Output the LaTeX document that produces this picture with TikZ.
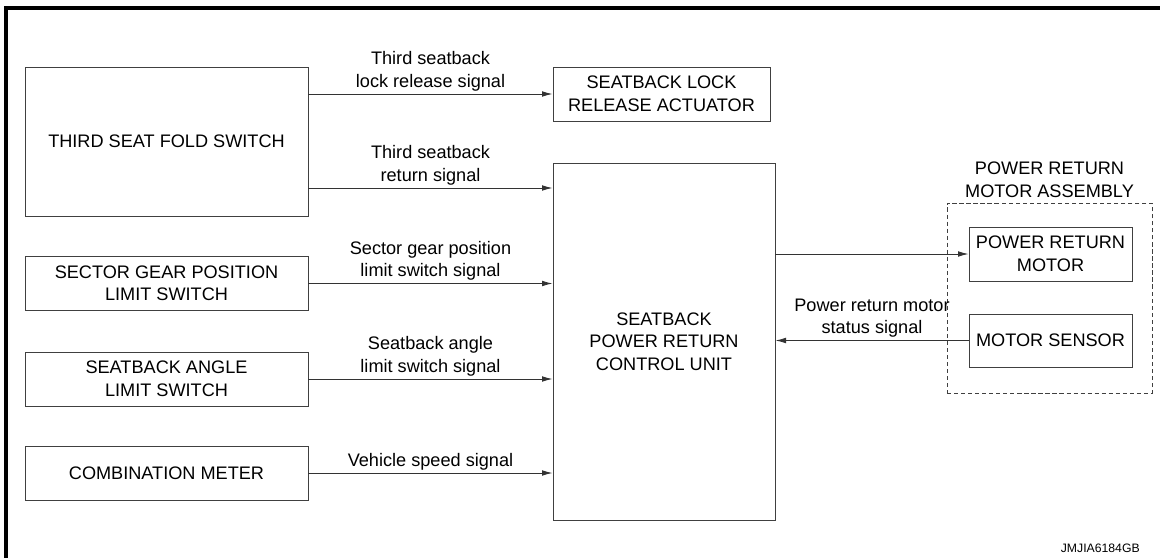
\documentclass[tikz,border=0pt]{standalone}
\usepackage{fontspec}
\setmainfont{Liberation Sans}
\usetikzlibrary{arrows.meta,positioning}

\tikzset{
  txt/.style={font=\fontsize{12.9}{16}\selectfont, align=center},
  blk/.style={txt, draw=black!75, line width=.6pt, inner sep=0pt},
  grp/.style={draw=black!75, line width=.6pt, dash pattern=on 3pt off 2pt, inner sep=0pt},
  sig/.style={draw=black!80, line width=.6pt, -{Latex[length=7.5pt,width=4pt]}},
  lbl/.style={txt, above, inner sep=2pt},
}

\begin{document}
\begin{tikzpicture}[x=0.025cm, y=-0.025cm]
  \useasboundingbox (0,0) rectangle (1160,558);
  \draw[line width=2.2pt] (6,558) -- (6,8) -- (1160,8);

  % inputs on the left
  \node[blk, minimum width=7.075cm, minimum height=3.725cm] (fold) at (166.5,141.5) {THIRD SEAT FOLD SWITCH};
  \node[blk, minimum width=7.075cm, minimum height=1.35cm] (sector) at (166.5,283.5) {SECTOR GEAR POSITION\\LIMIT SWITCH};
  \node[blk, minimum width=7.075cm, minimum height=1.35cm] (angle) at (166.5,379) {SEATBACK ANGLE\\LIMIT SWITCH};
  \node[blk, minimum width=7.075cm, minimum height=1.35cm] (meter) at (166.5,473) {COMBINATION METER};

  % middle column
  \node[blk, minimum width=5.425cm, minimum height=1.35cm] (act) at (661.5,94) {SEATBACK LOCK\\RELEASE ACTUATOR};
  \node[blk, minimum width=5.55cm, minimum height=8.925cm] (cu) at (664,341.5) {SEATBACK\\POWER RETURN\\CONTROL UNIT};

  % motor assembly
  \node[grp, minimum width=5.125cm, minimum height=4.75cm] (asmbox) at (1049.5,298) {};
  \node[blk, minimum width=4.075cm, minimum height=1.35cm] (motor) at (1050.5,254) {POWER RETURN\\MOTOR};
  \node[blk, minimum width=4.075cm, minimum height=1.325cm] (sensor) at (1050.5,340.5) {MOTOR SENSOR};
  \node[txt, above=3.5pt of asmbox.north, inner sep=0pt] (asm) {POWER RETURN\\MOTOR ASSEMBLY};

  % signals
  \draw[sig] (fold.east |- act.west) -- node[lbl] {Third seatback\\lock release signal} (act.west);
  \draw[sig] (fold.east |- 0,188) -- node[lbl] {Third seatback\\return signal} (cu.west |- 0,188);
  \draw[sig] (sector.east) -- node[lbl] {Sector gear position\\limit switch signal} (sector.east -| cu.west);
  \draw[sig] (angle.east) -- node[lbl] {Seatback angle\\limit switch signal} (angle.east -| cu.west);
  \draw[sig] (meter.east) -- node[lbl] {Vehicle speed signal} (meter.east -| cu.west);
  \draw[sig] (cu.east |- motor.west) -- (motor.west);
  \draw[sig] (sensor.west) -- node[lbl] {Power return motor\\status signal} (sensor.west -| cu.east);

  \node[font=\fontsize{8.7}{10}\selectfont, anchor=base east, inner sep=0pt] (code) at (1140,552) {JMJIA6184GB};
\end{tikzpicture}
\end{document}
